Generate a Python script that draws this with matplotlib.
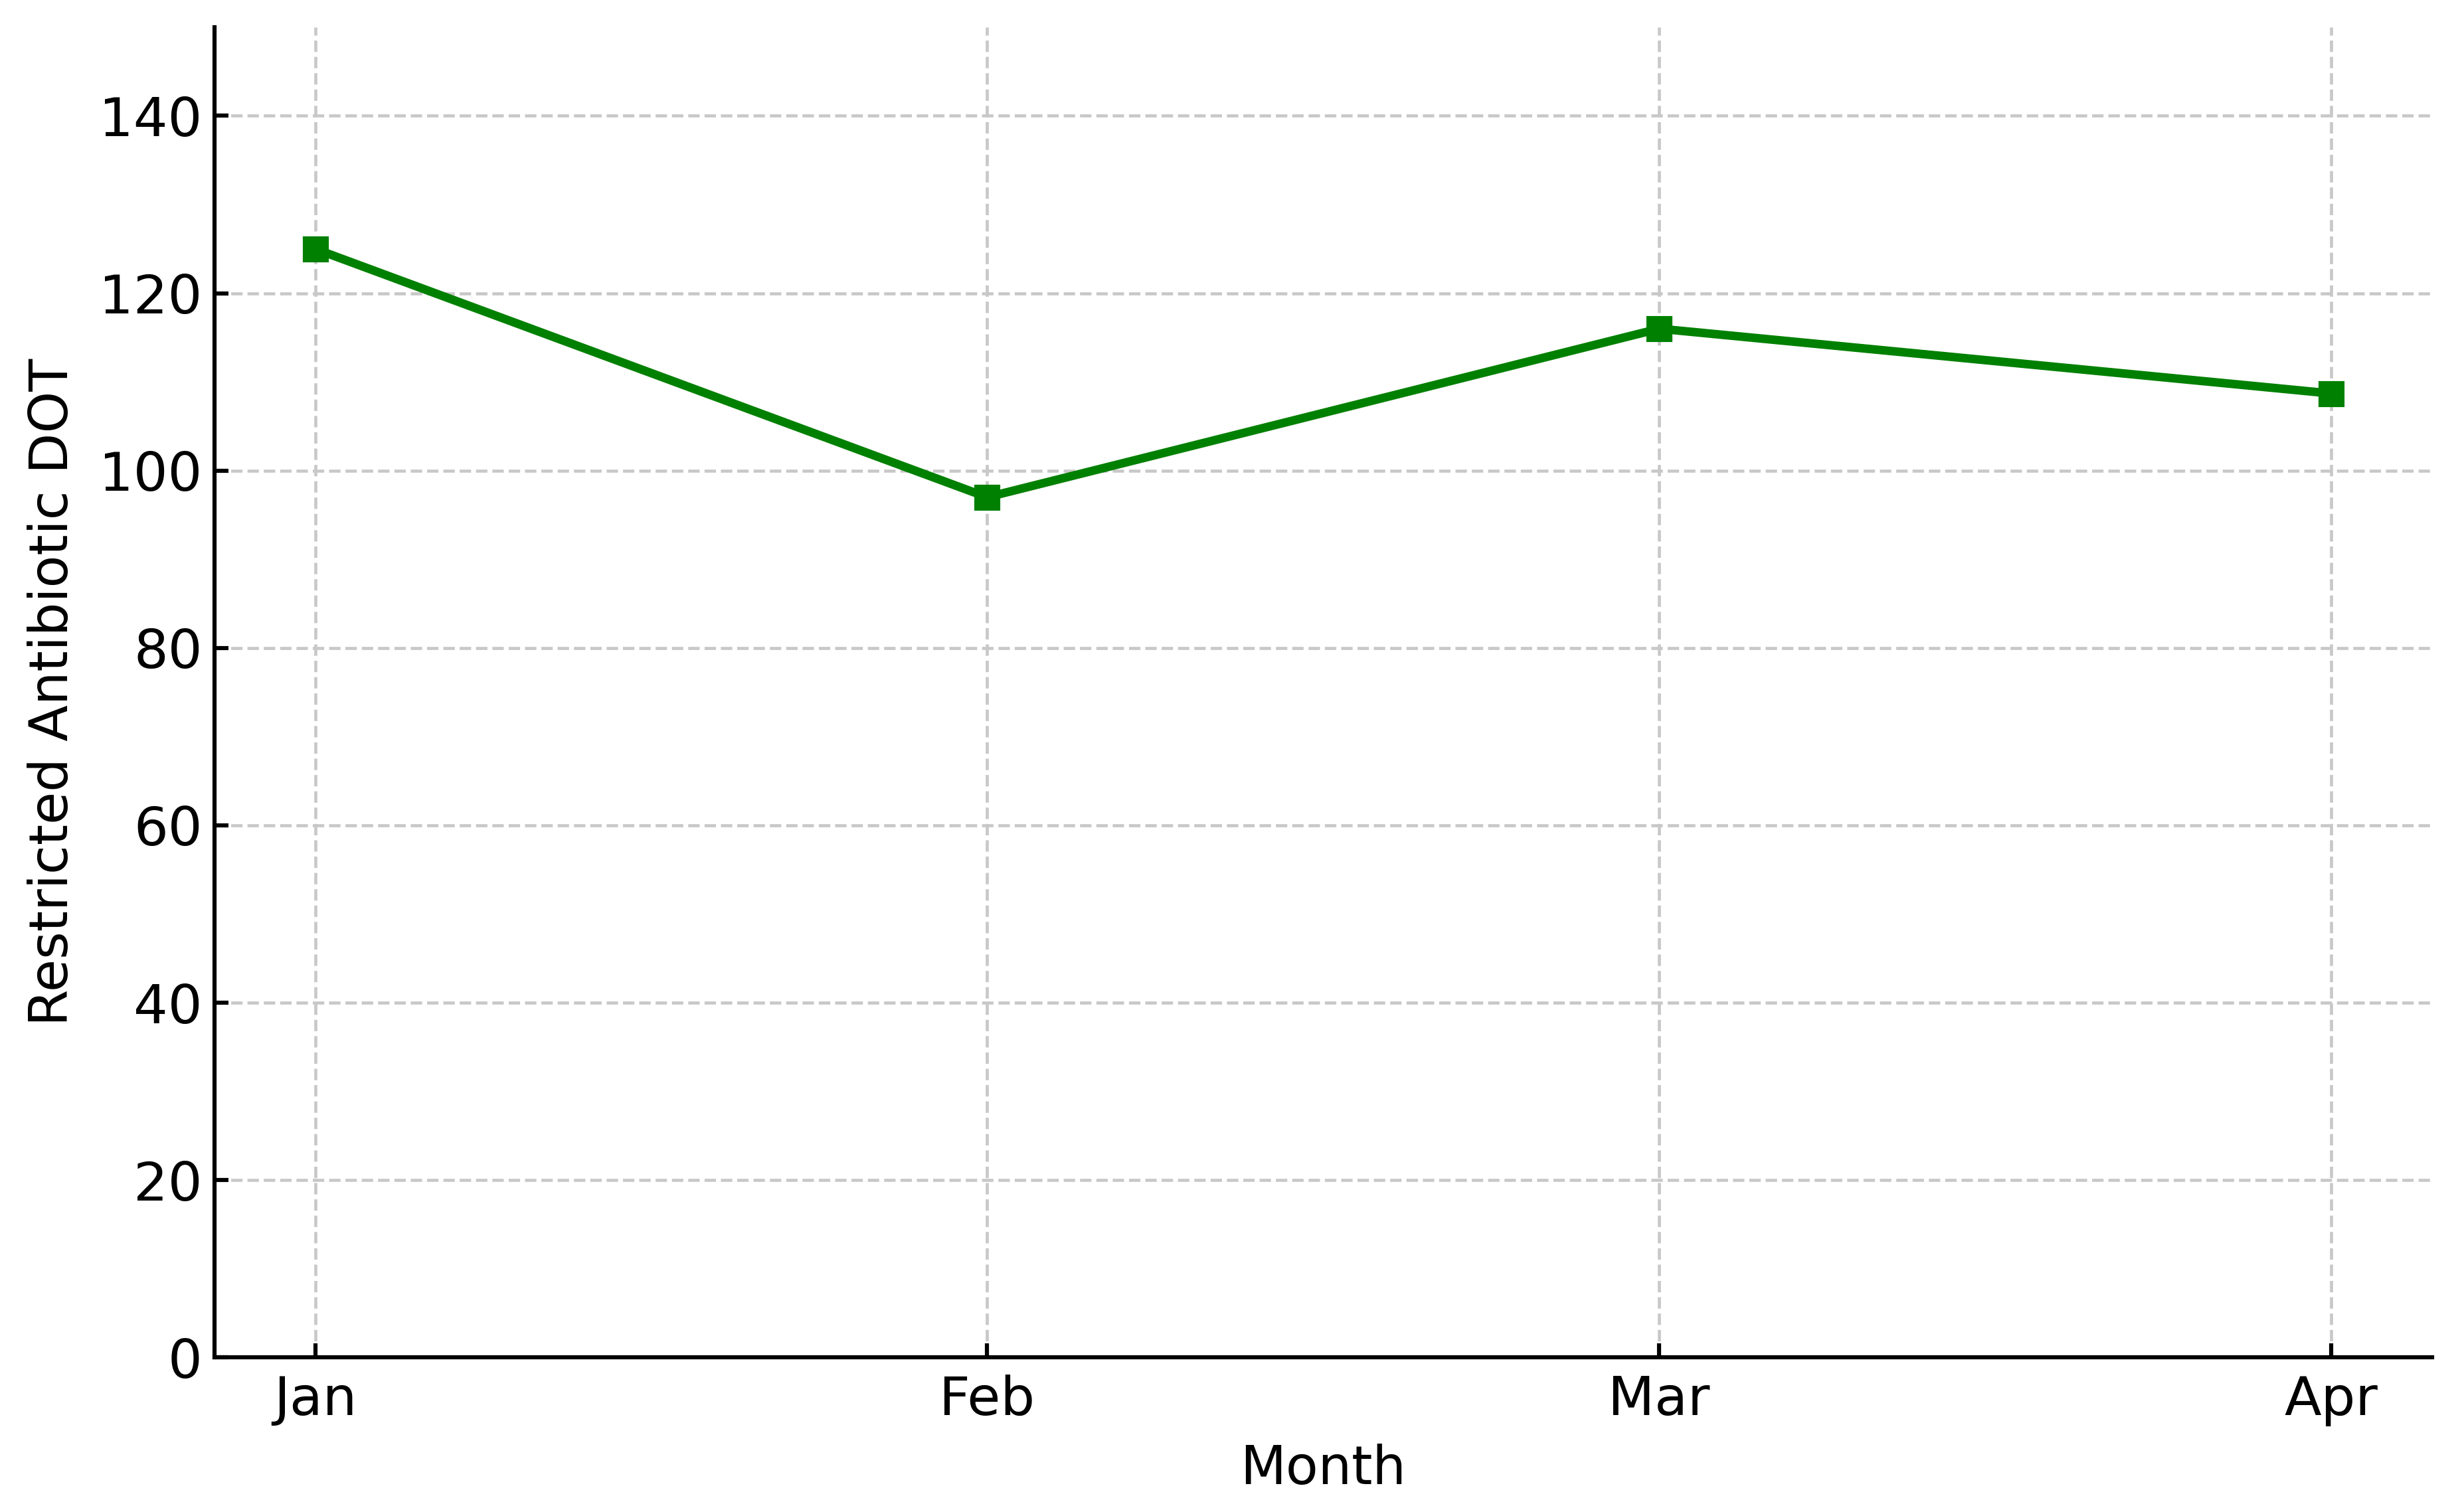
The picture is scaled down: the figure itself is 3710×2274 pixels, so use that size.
import numpy as np
import matplotlib
matplotlib.use("Agg")
import matplotlib.pyplot as plt

# monthly restricted antibiotic days of therapy
months = ["Jan", "Feb", "Mar", "Apr"]
dot_values = [125, 97, 116, 108.7]

fig = plt.figure(figsize=(10, 6.1294), dpi=371)
fig.subplots_adjust(left=0.087, right=0.987, top=0.982, bottom=0.101)
ax = fig.add_subplot(1, 1, 1)

ax.plot(months, dot_values, color='green', marker='s', markersize=6.5,
        linestyle='-', linewidth=2.5)

ax.set_ylim(0, 150)
ax.set_yticks(np.arange(0, 141, 20))
ax.set_xlabel('Month', fontsize=15.5, labelpad=5)
ax.set_ylabel('Restricted Antibiotic DOT', fontsize=15.5, labelpad=6)
ax.tick_params(axis='both', direction='in', labelsize=15.8, length=4, width=1.2)
ax.tick_params(axis='x', pad=5)

for side in ['top', 'right']:
    ax.spines[side].set_visible(False)
for side in ['left', 'bottom']:
    ax.spines[side].set_linewidth(1.2)

ax.grid(True, linestyle='--', color='#c8c8c8', linewidth=0.9)
ax.set_axisbelow(True)

plt.savefig('out.png', dpi=371)
